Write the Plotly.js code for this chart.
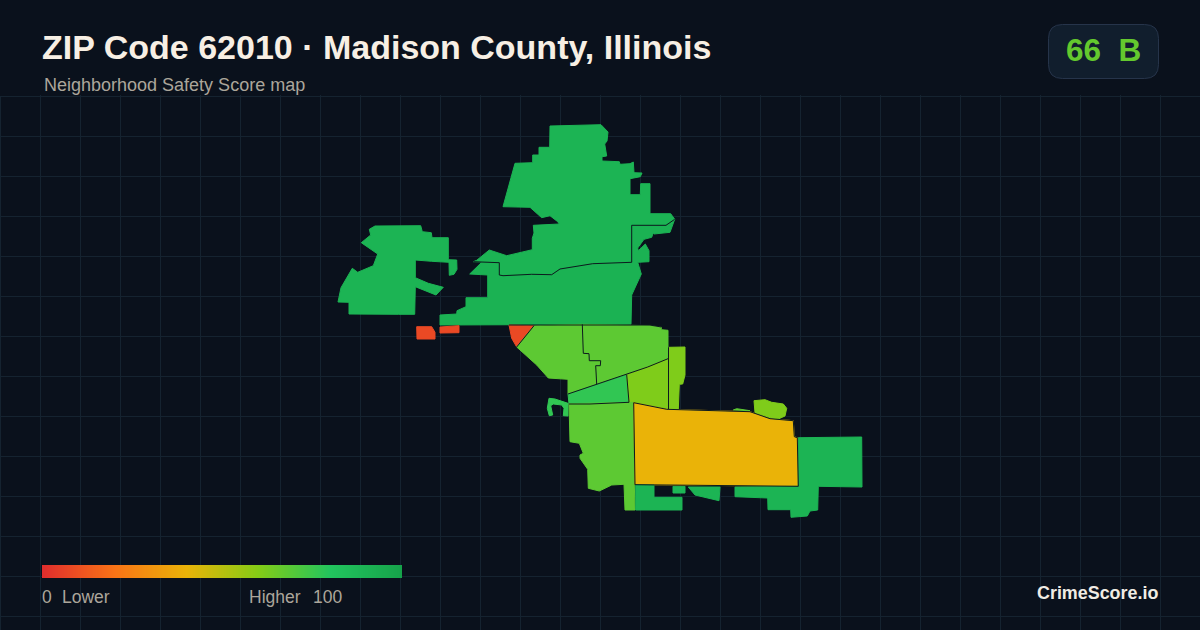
<!DOCTYPE html>
<html>
<head>
<meta charset="utf-8">
<script src="https://cdn.plot.ly/plotly-3.0.1.min.js"></script>
<style>html,body{margin:0;padding:0;background:#0a111c;overflow:hidden}#chart{width:1200px;height:630px}
.scatterlayer path.js-line{stroke-linejoin:miter !important}</style>
</head>
<body>
<div id="chart"></div>
<script>
// Map outlines, in picture units
const northX = [550,575,601,608,607,604.7,606.7,602,602,619.3,620,630,633.3,634,642,640.3,630,630,640.3,640.7,650,650,670.7,674.7,666,631.7,631.7,592.7,560,551.7,531.7,503,499.3,499.3,473.3,476.7,489.3,506.7,532.3,532.3,534,533.3,559.3,557.7,550,541.7,530,503,515,532.7,532.7,539,539,549.7,550];
const northY = [126,125,124.7,132,141,144,156,156.7,161,161.7,164.3,163.7,162,172.7,173,176.7,178.7,194.7,194.7,183.7,183.7,213.7,213.7,219.3,225.3,225.3,262.3,263.7,269,274.7,274.3,275.7,275,262.7,261.7,260.3,250,255.7,249.7,238.3,233,225.3,224,221.7,215.7,217.7,207.3,206.7,163.3,162.7,155,155,147.3,147.3,126];
const midX = [481.7,499.3,499.3,503,531.7,551.7,560,592.7,631.7,631.7,666,674.7,670,654,653.3,651.7,644,637.7,638.3,645.3,649,649,637.7,641.3,631.7,631,440,440,456.7,457,466,466,487.7,487.7,469.7,481.7];
const midY = [262.3,262.7,275,275.7,274.3,274.7,269,263.7,262.3,225.3,225.3,219.3,232.3,234,232.7,237.3,239.3,248,250.7,244,250.7,261.7,262.3,274,295,324.3,325,315,314,310.7,306.7,297.7,297.7,275,274,262.3];
const westX = [375,420.7,422.3,431.3,432,448.3,448.3,456.7,457,454,449.3,449,431.7,415.3,415.3,428.3,443.3,436,415.3,414.7,398.3,349,349,338,341,352.3,357.7,373.3,377.7,361.3,370.7,369.3,375];
const westY = [226,225.7,231.7,232.7,237.7,237.7,259.7,260,269.3,274.3,275.3,262.3,261.3,260,277.7,283.3,287.3,295,286.7,314.3,314.3,314,302.3,302,287.7,268.3,272.3,265.7,254,242.7,235,229.3,226];
const redAX = [416.7,431.7,435,435,417,416.7];
const redAY = [326.7,326.7,332.3,339,339,326.7];
const redBX = [440,459,459,440,440];
const redBY = [327,325.7,332.7,333,327];
const redCX = [509,534,516.7,511.7,509];
const redCY = [325,325.7,347,338.3,325];
const limeWestX = [534,582.3,583.3,589,589.3,600.7,600.3,595.7,596.7,568,568,548.3,536.7,516.7,534];
const limeWestY = [325.7,324.3,353.3,353.7,360.7,360.7,365.7,365.7,384.3,394,379.3,378,365,347,325.7];
const limeEastX = [582.3,650,661.3,661.3,668,668,647.7,628.3,596.7,595.7,600.3,600.7,589.3,589,583.3,582.3];
const limeEastY = [324.3,325.7,327.3,329.7,330.3,358.7,367,373.7,384.3,365.7,365.7,360.7,360.7,353.7,353.3,324.3];
const centerX = [568,596.7,626.7,629,590,569,568];
const centerY = [394,384.3,374.7,402.3,404,404,394];
const oliveX = [626.7,647.7,668,668,633.3,629,626.7];
const oliveY = [374.7,367,358.7,408.7,402.7,402.3,374.7];
const stripX = [669,685,685,682.7,679.3,678.3,669,669];
const stripY = [347.3,347,375,384,384.3,409.3,409.3,347.3];
const hookX = [549,555,568,568,563.3,564,561.7,553.3,550.7,552.7,549.3,547.3,549];
const hookY = [398.3,399,403.3,416,415.7,408.3,405,404,405.7,415,415.7,408.3,398.3];
const southWestX = [569,633.3,634.3,635,625,624,611.7,599.3,588.3,587.7,580,580,583.3,579.3,570,569];
const southWestY = [403.7,402.3,484.3,510,510,484.3,485,491,488.3,469.3,458.3,455,453.3,443.3,441.7,403.7];
const coreX = [633.7,666.7,750,770,793.3,794.3,797.3,798.3,635,633.7];
const coreY = [402.7,409.3,411.7,418.7,420.7,436.7,437.7,486.3,484.7,402.7];
const southX = [635.7,654,654,682,682,635.7,635.7];
const southY = [484.7,485,497.3,497.3,510,510,484.7];
const tabX = [673,685,685,673,673];
const tabY = [486.3,486.3,493,493,486.3];
const wedgeX = [688.3,720,719,700,695,688.3];
const wedgeY = [487,487,500.7,496.7,495,487];
const eastX = [798.3,861.7,862,818.3,817.7,810,807.3,791,790.7,768,767.7,735,735,798.3,798.3];
const eastY = [437.7,437,487,486.3,510,511,516,517.3,509.7,509.7,498,496.7,487,486.3,437.7];
const knobX = [754,765,771.7,783.3,786.7,785,778.3,770,755,754];
const knobY = [400.7,399.7,402.3,404,408.3,416,419,417.7,412.7,400.7];
const sliverX = [733.3,736.7,750,733.3];
const sliverY = [410,408.7,410.7,410];

const regionXs = [northX,midX,westX,redAX,redBX,redCX,limeWestX,limeEastX,centerX,oliveX,stripX,hookX,southWestX,coreX,southX,tabX,wedgeX,eastX,knobX,sliverX];
const regionYs = [northY,midY,westY,redAY,redBY,redCY,limeWestY,limeEastY,centerY,oliveY,stripY,hookY,southWestY,coreY,southY,tabY,wedgeY,eastY,knobY,sliverY];
const regionScores = [90,91,90,8,8,8,68,68,77,61,61,77,68,40,90,88,90,90,61,68];

// Shared borders between neighbouring areas
const borderNorthX = [473.3,499.3,499.3,503,531.7,551.7,560,592.7,631.7,631.7,666,674.7];
const borderNorthY = [261.7,262.7,275,275.7,274.3,274.7,269,263.7,262.3,225.3,225.3,219.3];
const borderTopX = [509,534,582.3,650,661.3];
const borderTopY = [325,325,324.3,325,327];
const borderRedX = [534,516.7];
const borderRedY = [325.7,347];
const borderLimeX = [582.3,583.3,589,589.3,600.7,600.3,595.7,596.7];
const borderLimeY = [324.3,353.3,353.7,360.7,360.7,365.7,365.7,384.3];
const borderSlopeX = [568,596.7,626.7,628.3,647.7,668];
const borderSlopeY = [394,384.3,374.7,373.7,367,358.7];
const borderCenterX = [626.7,629,590,569];
const borderCenterY = [374.7,402.3,404,404];
const borderStripX = [668.5,668.5];
const borderStripY = [347.3,409];
const borderLists = [[borderNorthX,borderNorthY],[borderTopX,borderTopY],[borderRedX,borderRedY],[borderLimeX,borderLimeY],[borderSlopeX,borderSlopeY],[borderCenterX,borderCenterY],[borderStripX,borderStripY],[coreX,coreY]];

const scaleStops = [0,20,40,60,80,100];
const scaleColors = ['#e02d2d','#f97316','#eab308','#84cc16','#22c55e','#16a34a'];
const legendValues = [0,5,10,15,20,25,30,35,40,45,50,55,60,65,70,75,80,85,90,95,100];

const titleText = 'ZIP Code 62010 · Madison County, Illinois';
const subtitleText = 'Neighborhood Safety Score map';
const badgeText = '66\u00a0\u00a0B';
const lowNumber = '0';
const lowText = 'Lower';
const highText = 'Higher';
const highNumber = '100';
const brandText = 'CrimeScore.io';

function hexRgb(h){return [1,3,5].map(i=>parseInt(h.substr(i,2),16));}
function scoreColor(s){
  let i=0; while(i<scaleStops.length-2 && s>scaleStops[i+1]) i++;
  const t=(s-scaleStops[i])/(scaleStops[i+1]-scaleStops[i]);
  const a=hexRgb(scaleColors[i]), b=hexRgb(scaleColors[i+1]);
  return 'rgb('+a.map((v,k)=>Math.round(v+(b[k]-v)*t)).join(',')+')';
}

const BG='#0a111c', GRID='#152330', EDGE='#0c1a1e';
const W=1200,H=630;
const px=x=>x/W, py=y=>1-y/H;

const traces = regionXs.map((xs,i)=>({
  type:'scatter',mode:'lines',x:xs,y:regionYs[i],fill:'toself',
  fillcolor:scoreColor(regionScores[i]),
  line:{color:scoreColor(regionScores[i]),width:1},hoverinfo:'skip',showlegend:false,xaxis:'x',yaxis:'y'
}));
borderLists.forEach(b=>traces.push({
  type:'scatter',mode:'lines',x:b[0],y:b[1],line:{color:EDGE,width:1},hoverinfo:'skip',showlegend:false,xaxis:'x',yaxis:'y'
}));
traces.push({
  type:'heatmap',x:legendValues,y:[0,1],z:[legendValues,legendValues],zmin:0,zmax:100,zsmooth:'best',
  colorscale:scaleStops.map((s,i)=>[s/100,scaleColors[i]]),showscale:false,hoverinfo:'skip',xaxis:'x2',yaxis:'y2'
});

const hidden={visible:false,fixedrange:true};
const legendFont={family:'Liberation Sans',size:17.5,color:'#aca69b'};
const layout={
  width:W,height:H,margin:{l:0,r:0,t:0,b:0},paper_bgcolor:BG,plot_bgcolor:BG,showlegend:false,
  xaxis:{range:[0,1200],domain:[0,1],dtick:40,tick0:0.5,showgrid:true,gridcolor:GRID,gridwidth:1,zeroline:false,showline:false,ticks:'',showticklabels:false,fixedrange:true},
  yaxis:{range:[630,95],domain:[0,py(95)],dtick:40,tick0:96.5,showgrid:true,gridcolor:GRID,gridwidth:1,zeroline:false,showline:false,ticks:'',showticklabels:false,fixedrange:true},
  xaxis2:Object.assign({range:[0,100],domain:[px(42),px(402)],anchor:'y2'},hidden),
  yaxis2:Object.assign({range:[0,1],domain:[py(578),py(565)],anchor:'x2'},hidden),
  shapes:[
   {type:'line',xref:'x',yref:'paper',x0:0.5,x1:0.5,y0:0,y1:py(96),layer:'below',line:{color:GRID,width:1}},
   {type:'path',xref:'paper',yref:'paper',
    path:(()=>{const l=1048.5,r=1158.5,t=24.5,b=78.5,c=14;
      const X=px,Y=py;
      return `M${X(l+c)},${Y(t)}L${X(r-c)},${Y(t)}Q${X(r)},${Y(t)} ${X(r)},${Y(t+c)}L${X(r)},${Y(b-c)}Q${X(r)},${Y(b)} ${X(r-c)},${Y(b)}L${X(l+c)},${Y(b)}Q${X(l)},${Y(b)} ${X(l)},${Y(b-c)}L${X(l)},${Y(t+c)}Q${X(l)},${Y(t)} ${X(l+c)},${Y(t)}Z`;})(),
    fillcolor:'#111e2d',line:{color:'#26344a',width:1}}],
  annotations:[
    {text:titleText,x:px(42),y:py(47),xanchor:'left',yanchor:'middle',font:{family:'Liberation Sans',size:34,color:'#f7efe4',weight:700}},
    {text:subtitleText,x:px(44),y:py(85),xanchor:'left',yanchor:'middle',font:{family:'Liberation Sans',size:18,color:'#aca69b'}},
    {text:badgeText,x:px(1103),y:py(50),xanchor:'center',yanchor:'middle',font:{family:'Liberation Sans',size:31.5,color:'#64c82e',weight:700}},
    {text:lowNumber,x:px(42),y:py(597),xanchor:'left',yanchor:'middle',font:legendFont},
    {text:lowText,x:px(62),y:py(597),xanchor:'left',yanchor:'middle',font:legendFont},
    {text:highText,x:px(249),y:py(597),xanchor:'left',yanchor:'middle',font:legendFont},
    {text:highNumber,x:px(341.5),y:py(597),xanchor:'right',yanchor:'middle',font:legendFont},
    {text:brandText,x:px(1158),y:py(593),xanchor:'right',yanchor:'middle',font:{family:'Liberation Sans',size:17.9,color:'#f0ece4',weight:700}}
  ].map(a=>Object.assign({xref:'paper',yref:'paper',showarrow:false,borderpad:0,borderwidth:0},a))
};
Plotly.newPlot('chart',traces,layout,{displayModeBar:false,staticPlot:true});
</script>
</body>
</html>
